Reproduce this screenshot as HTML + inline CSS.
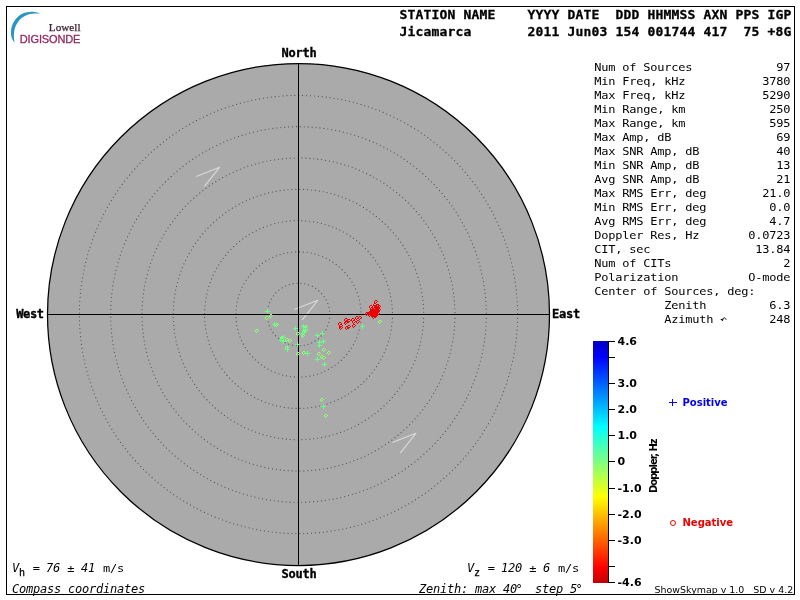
<!DOCTYPE html>
<html lang="en"><head><meta charset="utf-8"><title>Digisonde Skymap - Jicamarca</title>
<style>
html,body{margin:0;padding:0;background:#fff;}
body{width:800px;height:600px;overflow:hidden;position:relative;}
svg{position:absolute;left:0;top:0;display:block;}
text{white-space:pre;}
.m{font-family:"DejaVu Sans Mono","Liberation Mono",monospace;font-size:11px;fill:#000;}
.mi{font-family:"DejaVu Sans Mono","Liberation Mono",monospace;font-size:12px;font-style:italic;fill:#000;}
.ms{font-family:"DejaVu Sans Mono","Liberation Mono",monospace;font-size:10px;fill:#000;stroke:#000;stroke-width:0.25px;}
.mb{font-family:"DejaVu Sans Mono","Liberation Mono",monospace;font-size:12px;font-weight:bold;fill:#000;stroke:#000;stroke-width:0.35px;}
.hb{font-family:"DejaVu Sans Mono","Liberation Mono",monospace;font-size:13px;font-weight:bold;fill:#000;stroke:#000;stroke-width:0.3px;}
.sb{font-family:"DejaVu Sans","Liberation Sans",sans-serif;font-weight:bold;fill:#000;}
.s{font-family:"DejaVu Sans","Liberation Sans",sans-serif;fill:#000;}
.px{shape-rendering:crispEdges;}
</style></head><body>
<svg width="800" height="600" viewBox="0 0 800 600">
<defs>
<linearGradient id="cb" x1="0" y1="0" x2="0" y2="1">
<stop offset="0" stop-color="#0000c0"/>
<stop offset="0.065" stop-color="#0000ff"/>
<stop offset="0.355" stop-color="#00ffff"/>
<stop offset="0.645" stop-color="#ffff00"/>
<stop offset="0.935" stop-color="#ff0000"/>
<stop offset="1" stop-color="#c00000"/>
</linearGradient>
<path id="o" class="px" d="M1 0h2v1h-2zM0 1h1v2h-1zM3 1h1v1h-1zM2 2h1v1h-1zM1 3h1v1h-1z"/>
<path id="p" class="px" d="M0 2h5v1h-5zM2 0h1v5h-1z"/>
</defs>
<rect x="0" y="0" width="800" height="600" fill="#fff"/>

<rect class="px" x="6.5" y="6.5" width="788" height="588" fill="none" stroke="#000" stroke-width="1"/>
<circle cx="298.5" cy="314.5" r="251.0" fill="#aaaaaa" stroke="#000" stroke-width="1.25"/>
<g fill="none" stroke="#000" stroke-opacity="0.5" stroke-width="1.2" stroke-linecap="round" stroke-dasharray="0.01 3.93">
<circle cx="298.5" cy="314.5" r="31.300"/>
<circle cx="298.5" cy="314.5" r="62.600"/>
<circle cx="298.5" cy="314.5" r="93.900"/>
<circle cx="298.5" cy="314.5" r="125.200"/>
<circle cx="298.5" cy="314.5" r="156.500"/>
<circle cx="298.5" cy="314.5" r="187.800"/>
<circle cx="298.5" cy="314.5" r="219.100"/>
</g>
<g fill="none" stroke="#dadada" stroke-width="1.1" stroke-linejoin="round">
<path d="M196.2 176.4 L219.7 167.2 L204.2 186.6"/>
<path d="M294.3 309.6 L317.8 300.3 L302.3 319.8"/>
<path d="M392.4 442.6 L415.9 433.3 L400.4 452.8"/>
</g>
<rect class="px" x="298" y="63" width="1" height="503" fill="#000"/>
<rect class="px" x="47" y="314" width="503" height="1" fill="#000"/>
<g fill="#90ff70">
<use href="#o" x="269" y="314"/>
<use href="#o" x="265" y="316"/>
<use href="#o" x="275" y="323"/>
<use href="#o" x="255" y="329"/>
<use href="#o" x="304" y="325"/>
<use href="#o" x="304" y="329"/>
<use href="#o" x="302" y="330"/>
<use href="#o" x="296" y="332"/>
<use href="#o" x="301" y="334"/>
<use href="#o" x="280" y="336"/>
<use href="#o" x="285" y="338"/>
<use href="#o" x="288" y="339"/>
<use href="#o" x="285" y="346"/>
<use href="#o" x="296" y="352"/>
<use href="#o" x="302" y="351"/>
<use href="#o" x="322" y="348"/>
<use href="#o" x="327" y="351"/>
<use href="#o" x="317" y="352"/>
<use href="#o" x="320" y="355"/>
<use href="#o" x="322" y="356"/>
<use href="#o" x="320" y="398"/>
<use href="#o" x="324" y="414"/>
<use href="#o" x="378" y="320"/>
</g>
<g fill="#66ff88">
<use href="#p" x="265" y="309"/>
<use href="#p" x="272" y="322"/>
<use href="#p" x="293" y="326"/>
<use href="#p" x="301" y="324"/>
<use href="#p" x="303" y="327"/>
<use href="#p" x="300" y="331"/>
<use href="#p" x="302" y="329"/>
<use href="#p" x="315" y="333"/>
<use href="#p" x="320" y="331"/>
<use href="#p" x="317" y="340"/>
<use href="#p" x="321" y="339"/>
<use href="#p" x="317" y="343"/>
<use href="#p" x="295" y="342"/>
<use href="#p" x="281" y="335"/>
<use href="#p" x="279" y="338"/>
<use href="#p" x="281" y="339"/>
<use href="#p" x="285" y="347"/>
<use href="#p" x="305" y="351"/>
<use href="#p" x="315" y="357"/>
<use href="#p" x="322" y="362"/>
<use href="#p" x="321" y="404"/>
<use href="#p" x="360" y="324"/>
</g>
<g fill="#ee0000">
<use href="#o" x="338" y="322"/>
<use href="#o" x="339" y="324"/>
<use href="#o" x="339" y="326"/>
<use href="#o" x="344" y="318"/>
<use href="#o" x="347" y="319"/>
<use href="#o" x="344" y="321"/>
<use href="#o" x="345" y="320"/>
<use href="#o" x="345" y="326"/>
<use href="#o" x="347" y="325"/>
<use href="#o" x="351" y="318"/>
<use href="#o" x="352" y="320"/>
<use href="#o" x="355" y="316"/>
<use href="#o" x="358" y="316"/>
<use href="#o" x="356" y="320"/>
<use href="#o" x="352" y="324"/>
<use href="#o" x="374" y="300"/>
<use href="#o" x="376" y="304"/>
<use href="#o" x="376" y="307"/>
<use href="#o" x="369" y="305"/>
<use href="#o" x="373" y="303"/>
<use href="#o" x="372" y="305"/>
<use href="#o" x="374" y="305"/>
<use href="#o" x="373" y="307"/>
<use href="#o" x="371" y="308"/>
<use href="#o" x="375" y="309"/>
<use href="#o" x="373" y="309"/>
<use href="#o" x="369" y="310"/>
<use href="#o" x="371" y="310"/>
<use href="#o" x="374" y="311"/>
<use href="#o" x="372" y="312"/>
<use href="#o" x="376" y="310"/>
<use href="#o" x="369" y="312"/>
<use href="#o" x="367" y="312"/>
<use href="#o" x="365" y="312"/>
<use href="#o" x="371" y="313"/>
<use href="#o" x="374" y="312"/>
<use href="#o" x="373" y="314"/>
<use href="#o" x="372" y="315"/>
<use href="#o" x="375" y="313"/>
<use href="#o" x="370" y="307"/>
<use href="#o" x="375" y="306"/>
<use href="#o" x="374" y="308"/>
<use href="#o" x="370" y="311"/>
<use href="#o" x="373" y="311"/>
<use href="#o" x="368" y="311"/>
<use href="#o" x="372" y="310"/>
<use href="#o" x="374" y="314"/>
<use href="#o" x="376" y="312"/>
<use href="#o" x="368" y="313"/>
<use href="#o" x="370" y="313"/>
<use href="#o" x="374" y="313"/>
<use href="#o" x="377" y="308"/>
<use href="#o" x="377" y="305"/>
</g>
<text class="mb" x="281.50 288.50 295.50 302.50 309.50" y="57">North</text>
<text class="mb" x="281.50 288.50 295.50 302.50 309.50" y="578">South</text>
<text class="mb" x="16.20 23.05 29.90 36.75" y="318">West</text>
<text class="mb" x="552.00 559.00 566.00 573.00" y="318">East</text>
<text class="hb" x="399.50 407.50 415.50 423.50 431.50 439.50 447.50 455.50 463.50 471.50 479.50 487.50 495.50 503.50 511.50 519.50 527.50 535.50 543.50 551.50 559.50 567.50 575.50 583.50 591.50 599.50 607.50 615.50 623.50 631.50 639.50 647.50 655.50 663.50 671.50 679.50 687.50 695.50 703.50 711.50 719.50 727.50 735.50 743.50 751.50 759.50 767.50 775.50 783.50" y="19.2">STATION NAME    YYYY DATE  DDD HHMMSS AXN PPS IGP</text>
<text class="hb" x="399.50 407.50 415.50 423.50 431.50 439.50 447.50 455.50 463.50 471.50 479.50 487.50 495.50 503.50 511.50 519.50 527.50 535.50 543.50 551.50 559.50 567.50 575.50 583.50 591.50 599.50 607.50 615.50 623.50 631.50 639.50 647.50 655.50 663.50 671.50 679.50 687.50 695.50 703.50 711.50 719.50 727.50 735.50 743.50 751.50 759.50 767.50 775.50 783.50" y="36.4">Jicamarca       2011 Jun03 154 001744 417  75 +8G</text>
<text class="m" x="545.23 551.65 558.07 564.50 570.92 577.34 583.76 590.18 596.61 603.03 609.45 615.87 622.29 628.72" y="71" transform="scale(1.09 1)">Num of Sources</text>
<text class="m" x="712.11 718.53" y="71" transform="scale(1.09 1)">97</text>
<text class="m" x="545.23 551.65 558.07 564.50 570.92 577.34 583.76 590.18 596.61 603.03 609.45 615.87 622.29" y="85" transform="scale(1.09 1)">Min Freq, kHz</text>
<text class="m" x="699.27 705.69 712.11 718.53" y="85" transform="scale(1.09 1)">3780</text>
<text class="m" x="545.23 551.65 558.07 564.50 570.92 577.34 583.76 590.18 596.61 603.03 609.45 615.87 622.29" y="99" transform="scale(1.09 1)">Max Freq, kHz</text>
<text class="m" x="699.27 705.69 712.11 718.53" y="99" transform="scale(1.09 1)">5290</text>
<text class="m" x="545.23 551.65 558.07 564.50 570.92 577.34 583.76 590.18 596.61 603.03 609.45 615.87 622.29" y="113" transform="scale(1.09 1)">Min Range, km</text>
<text class="m" x="705.69 712.11 718.53" y="113" transform="scale(1.09 1)">250</text>
<text class="m" x="545.23 551.65 558.07 564.50 570.92 577.34 583.76 590.18 596.61 603.03 609.45 615.87 622.29" y="127" transform="scale(1.09 1)">Max Range, km</text>
<text class="m" x="705.69 712.11 718.53" y="127" transform="scale(1.09 1)">595</text>
<text class="m" x="545.23 551.65 558.07 564.50 570.92 577.34 583.76 590.18 596.61 603.03 609.45" y="141" transform="scale(1.09 1)">Max Amp, dB</text>
<text class="m" x="712.11 718.53" y="141" transform="scale(1.09 1)">69</text>
<text class="m" x="545.23 551.65 558.07 564.50 570.92 577.34 583.76 590.18 596.61 603.03 609.45 615.87 622.29 628.72 635.14" y="155" transform="scale(1.09 1)">Max SNR Amp, dB</text>
<text class="m" x="712.11 718.53" y="155" transform="scale(1.09 1)">40</text>
<text class="m" x="545.23 551.65 558.07 564.50 570.92 577.34 583.76 590.18 596.61 603.03 609.45 615.87 622.29 628.72 635.14" y="169" transform="scale(1.09 1)">Min SNR Amp, dB</text>
<text class="m" x="712.11 718.53" y="169" transform="scale(1.09 1)">13</text>
<text class="m" x="545.23 551.65 558.07 564.50 570.92 577.34 583.76 590.18 596.61 603.03 609.45 615.87 622.29 628.72 635.14" y="183" transform="scale(1.09 1)">Avg SNR Amp, dB</text>
<text class="m" x="712.11 718.53" y="183" transform="scale(1.09 1)">21</text>
<text class="m" x="545.23 551.65 558.07 564.50 570.92 577.34 583.76 590.18 596.61 603.03 609.45 615.87 622.29 628.72 635.14 641.56" y="197" transform="scale(1.09 1)">Max RMS Err, deg</text>
<text class="m" x="699.27 705.69 712.11 718.53" y="197" transform="scale(1.09 1)">21.0</text>
<text class="m" x="545.23 551.65 558.07 564.50 570.92 577.34 583.76 590.18 596.61 603.03 609.45 615.87 622.29 628.72 635.14 641.56" y="211" transform="scale(1.09 1)">Min RMS Err, deg</text>
<text class="m" x="705.69 712.11 718.53" y="211" transform="scale(1.09 1)">0.0</text>
<text class="m" x="545.23 551.65 558.07 564.50 570.92 577.34 583.76 590.18 596.61 603.03 609.45 615.87 622.29 628.72 635.14 641.56" y="225" transform="scale(1.09 1)">Avg RMS Err, deg</text>
<text class="m" x="705.69 712.11 718.53" y="225" transform="scale(1.09 1)">4.7</text>
<text class="m" x="545.23 551.65 558.07 564.50 570.92 577.34 583.76 590.18 596.61 603.03 609.45 615.87 622.29 628.72 635.14" y="239" transform="scale(1.09 1)">Doppler Res, Hz</text>
<text class="m" x="686.42 692.84 699.27 705.69 712.11 718.53" y="239" transform="scale(1.09 1)">0.0723</text>
<text class="m" x="545.23 551.65 558.07 564.50 570.92 577.34 583.76 590.18" y="253" transform="scale(1.09 1)">CIT, sec</text>
<text class="m" x="692.84 699.27 705.69 712.11 718.53" y="253" transform="scale(1.09 1)">13.84</text>
<text class="m" x="545.23 551.65 558.07 564.50 570.92 577.34 583.76 590.18 596.61 603.03 609.45" y="267" transform="scale(1.09 1)">Num of CITs</text>
<text class="m" x="718.53" y="267" transform="scale(1.09 1)">2</text>
<text class="m" x="545.23 551.65 558.07 564.50 570.92 577.34 583.76 590.18 596.61 603.03 609.45 615.87" y="281" transform="scale(1.09 1)">Polarization</text>
<text class="m" x="686.42 692.84 699.27 705.69 712.11 718.53" y="281" transform="scale(1.09 1)">O-mode</text>
<text class="m" x="545.23 551.65 558.07 564.50 570.92 577.34 583.76 590.18 596.61 603.03 609.45 615.87 622.29 628.72 635.14 641.56 647.98 654.40 660.83 667.25 673.67 680.09 686.51" y="295" transform="scale(1.09 1)">Center of Sources, deg:</text>
<text class="m" x="609.45 615.87 622.29 628.72 635.14 641.56" y="309" transform="scale(1.09 1)">Zenith</text>
<text class="m" x="705.69 712.11 718.53" y="309" transform="scale(1.09 1)">6.3</text>
<text class="m" x="609.45 615.87 622.29 628.72 635.14 641.56 647.98" y="323" transform="scale(1.09 1)">Azimuth</text>
<text class="m" x="705.69 712.11 718.53" y="323" transform="scale(1.09 1)">248</text>
<path d="M720.2 319.3 L723.4 318.4 L722.9 321.2 Z" fill="#111"/><path d="M722.6 320 C722.8 318.2 724.6 317.2 725.6 318.4 C726 318.9 726.1 319.3 726.1 319.8" fill="none" stroke="#222" stroke-width="1"/>
<rect class="px" x="593" y="341" width="15" height="242" fill="url(#cb)"/>
<rect class="px" x="608" y="341" width="1" height="242" fill="#000"/>
<rect class="px" x="609" y="341" width="6" height="1" fill="#000"/>
<text class="sb" font-size="11" x="617.5" y="345">4.6</text>
<rect class="px" x="609" y="357" width="6" height="1" fill="#000"/>
<rect class="px" x="609" y="383" width="6" height="1" fill="#000"/>
<text class="sb" font-size="11" x="617.5" y="387">3.0</text>
<rect class="px" x="609" y="409" width="6" height="1" fill="#000"/>
<text class="sb" font-size="11" x="617.5" y="413">2.0</text>
<rect class="px" x="609" y="435" width="6" height="1" fill="#000"/>
<text class="sb" font-size="11" x="617.5" y="439">1.0</text>
<rect class="px" x="609" y="461" width="6" height="1" fill="#000"/>
<text class="sb" font-size="11" x="617.5" y="465">0</text>
<rect class="px" x="609" y="488" width="6" height="1" fill="#000"/>
<text class="sb" font-size="11" x="617.5" y="492">-1.0</text>
<rect class="px" x="609" y="514" width="6" height="1" fill="#000"/>
<text class="sb" font-size="11" x="617.5" y="518">-2.0</text>
<rect class="px" x="609" y="540" width="6" height="1" fill="#000"/>
<text class="sb" font-size="11" x="617.5" y="544">-3.0</text>
<rect class="px" x="609" y="566" width="6" height="1" fill="#000"/>
<rect class="px" x="609" y="582" width="6" height="1" fill="#000"/>
<text class="sb" font-size="11" x="617.5" y="586">-4.6</text>
<text class="sb" font-size="10" letter-spacing="-1.0" transform="translate(657 493) rotate(-90)">Doppler, Hz</text>
<path class="px" d="M669 402h8v1h-8zM672 399h1v7h-1z" fill="#0000ee"/>
<text class="sb" font-size="10" x="682.5" y="406" style="fill:#0000ee">Positive</text>
<circle cx="673" cy="523" r="2.5" stroke="#ee0000" stroke-width="1" fill="none"/>
<text class="sb" font-size="10" x="682.5" y="526" style="fill:#ee0000">Negative</text>
<text class="s" font-size="9.45" x="654.6" y="593">ShowSkymap v 1.0   SD v 4.2</text>
<text class="mi" x="12.00" y="572">V</text>
<text class="ms" x="19.00" y="576">h</text>
<text class="m" x="30.00" y="572" transform="scale(1.09 1)">=</text>
<text class="mi" x="46.00 53.00" y="572">76</text>
<text class="m" x="61.65" y="572" transform="scale(1.09 1)">±</text>
<text class="mi" x="81.00 88.00" y="572">41</text>
<text class="m" x="94.50 100.92 107.34" y="572" transform="scale(1.09 1)">m/s</text>
<text class="mi" x="12.00 19.00 26.00 33.00 40.00 47.00 54.00 61.00 68.00 75.00 82.00 89.00 96.00 103.00 110.00 117.00 124.00 131.00 138.00" y="593">Compass coordinates</text>
<text class="mi" x="467.00" y="572">V</text>
<text class="ms" x="474.00" y="576">z</text>
<text class="m" x="447.43" y="572" transform="scale(1.09 1)">=</text>
<text class="mi" x="501.00 508.00 515.00" y="572">120</text>
<text class="m" x="485.50" y="572" transform="scale(1.09 1)">±</text>
<text class="mi" x="543.00" y="572">6</text>
<text class="m" x="511.93 518.35 524.77" y="572" transform="scale(1.09 1)">m/s</text>
<text class="mi" x="419.00 426.00 433.00 440.00 447.00 454.00 461.00 468.00 475.00 482.00 489.00 496.00 503.00 510.00 515.40 521.00 528.00 535.00 542.00 549.00 556.00 563.00 570.00 575.40" y="593">Zenith: max 40°  step 5°</text>
<path d="M39.3 13.3 C38.5 13.1 36.2 12.3 34.7 12.1 C33.2 11.9 31.7 11.8 30.0 11.9 C28.3 12.0 26.4 12.2 24.7 12.7 C23.0 13.2 21.4 14.0 20.0 15.0 C18.6 16.0 17.2 17.3 16.0 18.7 C14.8 20.1 13.8 21.6 13.0 23.3 C12.2 25.0 11.5 26.8 11.2 28.7 C10.9 30.6 10.8 32.9 11.0 34.7 C11.2 36.5 11.7 38.0 12.3 39.3 C12.9 40.6 14.3 42.1 14.7 42.7 L14.3 40.7 C14.2 39.9 13.9 37.7 13.9 36.0 C13.9 34.3 14.0 32.4 14.3 30.7 C14.6 29.0 15.1 27.4 15.7 26.0 C16.3 24.6 17.1 23.3 18.0 22.0 C18.9 20.7 20.1 19.4 21.3 18.3 C22.5 17.2 23.9 16.4 25.3 15.7 C26.8 15.0 28.4 14.4 30.0 14.0 C31.6 13.6 33.2 13.6 34.7 13.5 C36.2 13.4 38.5 13.7 39.3 13.7 Z" fill="#2b96c2"/>
<text x="48.8" y="30.5" font-family="'Liberation Serif',serif" font-size="11.2" fill="#3a1c30" stroke="#3a1c30" stroke-width="0.25">Lowell</text>
<text x="19.8" y="42.5" font-family="'Liberation Sans',sans-serif" font-size="11" letter-spacing="-0.15" fill="#922a60" stroke="#922a60" stroke-width="0.3">DIGISONDE</text>
</svg></body></html>
